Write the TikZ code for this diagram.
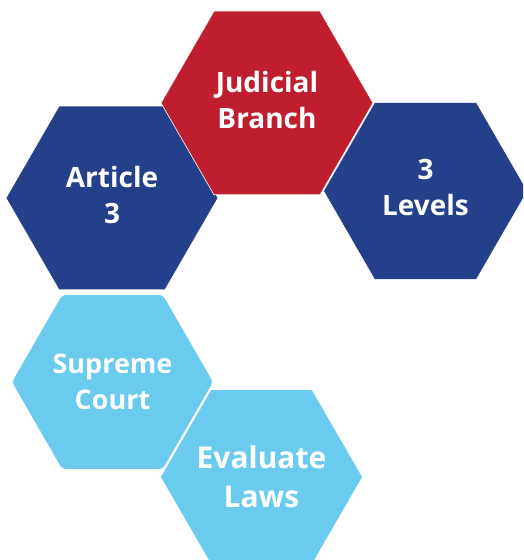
\documentclass[tikz,border=0pt]{standalone}
\usepackage{fontspec}
\setmainfont{Open Sans}
\usetikzlibrary{shapes.geometric}

\definecolor{judred}{RGB}{190,30,45}
\definecolor{judblue}{RGB}{37,64,139}
\definecolor{judsky}{RGB}{107,203,239}

\begin{document}
\begin{tikzpicture}[x=1pt,y=1pt,
	hexa/.style={regular polygon,regular polygon sides=6,inner sep=0pt,
		draw=white,line width=0.6pt},
	hexlabel/.style={text=white,align=center,
		font=\bfseries\fontsize{28}{36}\selectfont},
	red hexa/.style={hexa,fill=judred},
	blue hexa/.style={hexa,fill=judblue},
	sky hexa/.style={hexa,fill=judsky}]
	\clip (0,0) rectangle (523,560);
	% top row
	\node[blue hexa,minimum size=212pt,
		label={[hexlabel,yshift=3pt]center:Article\\3}] (article) at (112,362) {};
	\node[blue hexa,minimum size=204pt,
		label={[hexlabel,yshift=3pt]center:3\\Levels}] (levels) at (425.5,369) {};
	\node[red hexa,minimum size=212pt,
		label={[hexlabel,yshift=3pt]center:Judicial\\Branch}] (judicial) at (267,457) {};
	% bottom row
	\node[sky hexa,minimum size=202pt,rounded corners=4pt,
		label={[hexlabel,font=\bfseries\fontsize{27}{36}\selectfont]center:Supreme\\Court}] (supreme) at (112.5,178) {};
	\node[sky hexa,minimum size=202pt,
		label={[hexlabel,font=\bfseries\fontsize{30}{39}\selectfont]center:Evaluate\\Laws}] (evaluate) at (261.5,83) {};
\end{tikzpicture}
\end{document}
